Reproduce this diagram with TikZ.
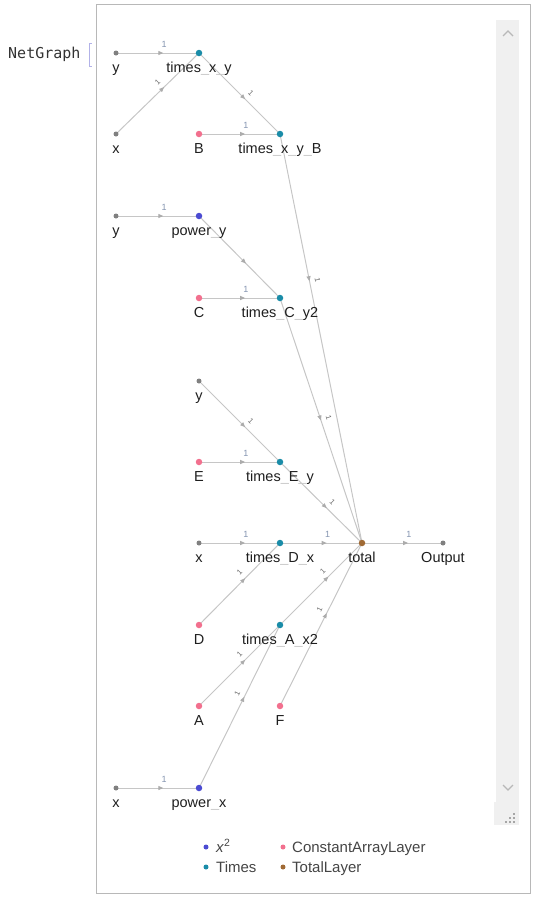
\documentclass[tikz,border=0pt]{standalone}
\usepackage{fontspec}
\setmainfont{Liberation Sans}
\setmonofont{DejaVu Sans Mono}
\usetikzlibrary{arrows.meta,decorations.markings,backgrounds}
\definecolor{edgec}{HTML}{C6C6C6}
\definecolor{arrc}{HTML}{ACACAC}
\definecolor{inpc}{HTML}{808080}
\definecolor{timesc}{HTML}{1A8CA8}
\definecolor{powc}{HTML}{4B4BD2}
\definecolor{constc}{HTML}{F2708E}
\definecolor{totc}{HTML}{A06A35}
\definecolor{framec}{HTML}{B8B8B8}
\definecolor{sbc}{HTML}{F0F0F0}
\definecolor{elblc}{HTML}{8494B0}
\definecolor{txtc}{HTML}{1E1E1E}
\definecolor{legc}{HTML}{454545}
\newcommand{\lus}{\textcolor{black!22}{\_}}
\begin{document}
\begin{tikzpicture}[x=1pt,y=-1pt,
  dot/.style={circle,fill=#1,inner sep=0pt,minimum size=6.5pt},
  inp/.style={circle,fill=inpc,inner sep=0pt,minimum size=5pt},
  lgdot/.style={circle,fill=#1,inner sep=0pt,minimum size=5pt},
  lbl/.style={anchor=base,font=\fontsize{14.5}{16}\selectfont,text=txtc,inner sep=0pt},
  leg/.style={anchor=base west,font=\fontsize{15}{17}\selectfont,text=legc,inner sep=0pt},
  conn/.style={draw=edgec,line width=1pt,postaction={decorate},
    decoration={markings,mark=at position #1 with {\arrow{Triangle[length=5pt,width=4pt,color=arrc]}}}},
  hl/.style={above=5pt,sloped,inner sep=0pt,font=\fontsize{9}{10}\selectfont,text=elblc},
  dl/.style={above=5pt,sloped,inner sep=0pt,font=\fontsize{7.5}{8}\selectfont,text=black!60}
]
\useasboundingbox (0,0) rectangle (535,900);

% frame and scrollbar
\draw[framec,line width=1pt] (96,4) rectangle (530,893);
\fill[sbc] (496,20) rectangle (519,802);
\fill[sbc] (494,802) rectangle (519,825);
\draw[black!28,line width=1.3pt] (503,36) -- (508,31) -- (513,36);
\draw[black!28,line width=1.3pt] (503,785) -- (508,790) -- (513,785);
\foreach \p in {(514,814),(510,818),(514,818),(506,822),(510,822),(514,822)}
  \fill[black!35] \p ++(-0.9,-0.9) rectangle ++(1.8,1.8);

% header
\node[anchor=base west,inner sep=0pt,font=\ttfamily\fontsize{15}{17}\selectfont,text=black!80] (title) at (8,58) {NetGraph};
\draw[black!30!blue!30,line width=0.8pt] (91.5,43) -- (89,43) -- (89,66) -- (91.5,66);

% vertices
\node[inp] (y1) at (116,53) {};
\node[dot=timesc] (txy) at (199,53) {};
\node[inp] (x1) at (116,134) {};
\node[dot=constc] (B) at (199,134) {};
\node[dot=timesc] (txyB) at (280,134) {};
\node[inp] (y2) at (116,216) {};
\node[dot=powc] (py) at (199,216) {};
\node[dot=constc] (C) at (199,298) {};
\node[dot=timesc] (tCy) at (280,298) {};
\node[inp] (y3) at (199,381) {};
\node[dot=constc] (E) at (199,462) {};
\node[dot=timesc] (tEy) at (280,462) {};
\node[inp] (x2) at (199,543) {};
\node[dot=timesc] (tDx) at (280,543) {};
\node[dot=totc] (tot) at (362,543) {};
\node[inp] (out) at (443,543) {};
\node[dot=constc] (D) at (199,625) {};
\node[dot=timesc] (tAx) at (280,625) {};
\node[dot=constc] (A) at (199,706) {};
\node[dot=constc] (F) at (280,706) {};
\node[inp] (x3) at (116,788) {};
\node[dot=powc] (px) at (199,788) {};

% vertex labels
\node[lbl] (ly1) at ([yshift=-19.5pt]y1.center) {y};
\node[lbl] (ltxy) at ([yshift=-19.5pt]txy.center) {times\lus x\lus y};
\node[lbl] (lx1) at ([yshift=-19.5pt]x1.center) {x};
\node[lbl] (lB) at ([yshift=-19.5pt]B.center) {B};
\node[lbl] (ltxyB) at ([yshift=-19.5pt]txyB.center) {times\lus x\lus y\lus B};
\node[lbl] (ly2) at ([yshift=-19.5pt]y2.center) {y};
\node[lbl] (lpy) at ([yshift=-19.5pt]py.center) {power\lus y};
\node[lbl] (lC) at ([yshift=-19.5pt]C.center) {C};
\node[lbl] (ltCy) at ([yshift=-19.5pt]tCy.center) {times\lus C\lus y2};
\node[lbl] (ly3) at ([yshift=-19.5pt]y3.center) {y};
\node[lbl] (lE) at ([yshift=-19.5pt]E.center) {E};
\node[lbl] (ltEy) at ([yshift=-19.5pt]tEy.center) {times\lus E\lus y};
\node[lbl] (lx2) at ([yshift=-19.5pt]x2.center) {x};
\node[lbl] (ltDx) at ([yshift=-19.5pt]tDx.center) {times\lus D\lus x};
\node[lbl] (ltot) at ([yshift=-19.5pt]tot.center) {total};
\node[lbl] (lout) at ([yshift=-19.5pt]out.center) {Output};
\node[lbl] (lD) at ([yshift=-19.5pt]D.center) {D};
\node[lbl] (ltAx) at ([yshift=-19.5pt]tAx.center) {times\lus A\lus x2};
\node[lbl] (lA) at ([yshift=-19.5pt]A.center) {A};
\node[lbl] (lF) at ([yshift=-19.5pt]F.center) {F};
\node[lbl] (lx3) at ([yshift=-19.5pt]x3.center) {x};
\node[lbl] (lpx) at ([yshift=-19.5pt]px.center) {power\lus x};

% connectors
\begin{scope}[on background layer]
\draw[conn=0.57] (y1.center) -- node[pos=0.58,hl] {1} (txy.center);
\draw[conn=0.58] (x1.center) -- node[pos=0.57,dl] {1} (txy.center);
\draw[conn=0.57] (txy.center) -- node[pos=0.57,dl] {1} (txyB.center);
\draw[conn=0.57] (B.center) -- node[pos=0.58,hl] {1} (txyB.center);
\draw[conn=0.36] (txyB.center) -- node[pos=0.36,dl] {1} (tot.center);
\draw[conn=0.57] (y2.center) -- node[pos=0.58,hl] {1} (py.center);
\draw[conn=0.58] (py.center) -- (tCy.center);
\draw[conn=0.57] (C.center) -- node[pos=0.58,hl] {1} (tCy.center);
\draw[conn=0.5] (tCy.center) -- node[pos=0.5,dl] {1} (tot.center);
\draw[conn=0.57] (y3.center) -- node[pos=0.57,dl] {1} (tEy.center);
\draw[conn=0.57] (E.center) -- node[pos=0.58,hl] {1} (tEy.center);
\draw[conn=0.57] (tEy.center) -- node[pos=0.57,dl] {1} (tot.center);
\draw[conn=0.57] (x2.center) -- node[pos=0.58,hl] {1} (tDx.center);
\draw[conn=0.57] (tDx.center) -- node[pos=0.58,hl] {1} (tot.center);
\draw[conn=0.57] (tot.center) -- node[pos=0.58,hl] {1} (out.center);
\draw[conn=0.57] (D.center) -- node[pos=0.57,dl] {1} (tDx.center);
\draw[conn=0.59] (tAx.center) -- node[pos=0.59,dl] {1} (tot.center);
\draw[conn=0.57] (F.center) -- node[pos=0.57,dl] {1} (tot.center);
\draw[conn=0.57] (A.center) -- node[pos=0.57,dl] {1} (tAx.center);
\draw[conn=0.56] (px.center) -- node[pos=0.56,dl] {1} (tAx.center);
\draw[conn=0.57] (x3.center) -- node[pos=0.58,hl] {1} (px.center);
\end{scope}

% legend
\node[lgdot=powc] (k1) at (206,847) {};
\node[leg] (t1) at (216,852) {\textit{x}\textsuperscript{2}};
\node[lgdot=constc] (k2) at (283,847) {};
\node[leg] (t2) at (292,852) {ConstantArrayLayer};
\node[lgdot=timesc] (k3) at (206,867) {};
\node[leg] (t3) at (216,872) {Times};
\node[lgdot=totc] (k4) at (283,867) {};
\node[leg] (t4) at (292,872) {TotalLayer};
\end{tikzpicture}
\end{document}
